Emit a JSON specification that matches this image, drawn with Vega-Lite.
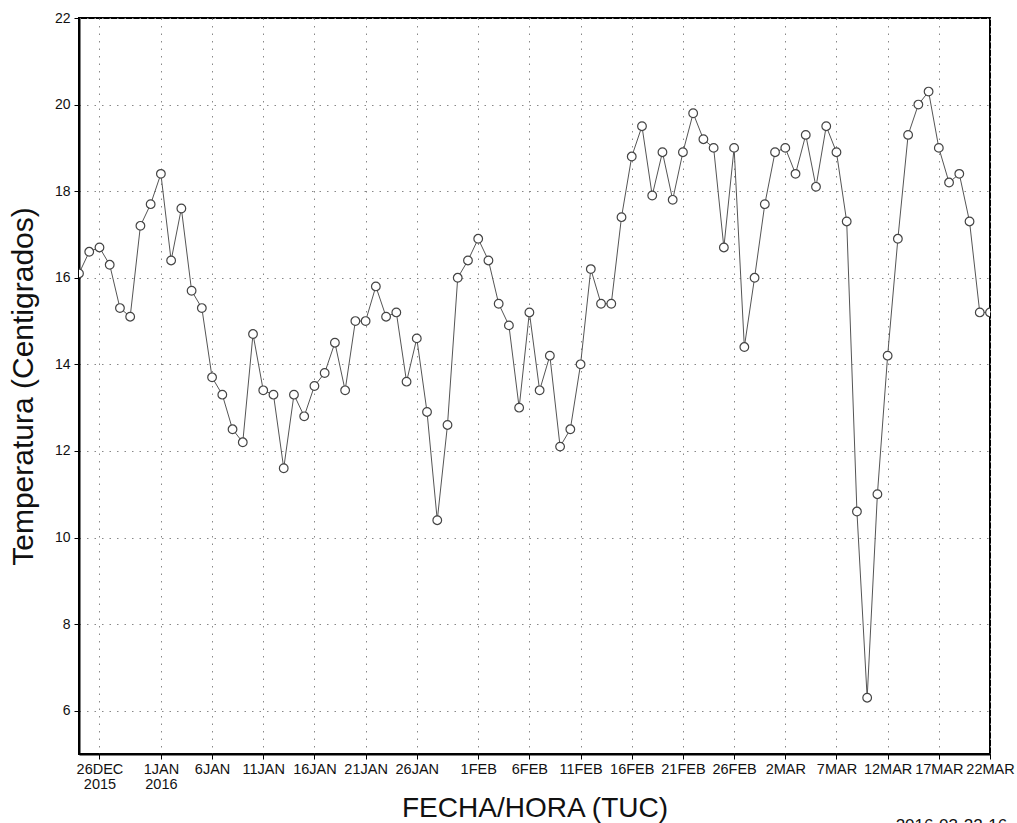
{
  "$schema": "https://vega.github.io/schema/vega-lite/v6.json",
  "width": 911,
  "height": 736,
  "autosize": {"type": "none"},
  "padding": {"left": 79, "top": 18, "right": 27, "bottom": 69},
  "background": "white",
  "config": {
    "view": {"stroke": "black", "strokeWidth": 2},
    "font": "Liberation Sans"
  },
  "title": {
    "text": "2016-03-22-16",
    "orient": "bottom",
    "anchor": "end",
    "font": "Liberation Sans",
    "fontSize": 17,
    "fontWeight": "normal",
    "color": "#111",
    "offset": -5,
    "dx": -7
  },
  "data": {
    "values": [
      {"date": "2015-12-24", "temp": 16.1},
      {"date": "2015-12-25", "temp": 16.6},
      {"date": "2015-12-26", "temp": 16.7},
      {"date": "2015-12-27", "temp": 16.3},
      {"date": "2015-12-28", "temp": 15.3},
      {"date": "2015-12-29", "temp": 15.1},
      {"date": "2015-12-30", "temp": 17.2},
      {"date": "2015-12-31", "temp": 17.7},
      {"date": "2016-01-01", "temp": 18.4},
      {"date": "2016-01-02", "temp": 16.4},
      {"date": "2016-01-03", "temp": 17.6},
      {"date": "2016-01-04", "temp": 15.7},
      {"date": "2016-01-05", "temp": 15.3},
      {"date": "2016-01-06", "temp": 13.7},
      {"date": "2016-01-07", "temp": 13.3},
      {"date": "2016-01-08", "temp": 12.5},
      {"date": "2016-01-09", "temp": 12.2},
      {"date": "2016-01-10", "temp": 14.7},
      {"date": "2016-01-11", "temp": 13.4},
      {"date": "2016-01-12", "temp": 13.3},
      {"date": "2016-01-13", "temp": 11.6},
      {"date": "2016-01-14", "temp": 13.3},
      {"date": "2016-01-15", "temp": 12.8},
      {"date": "2016-01-16", "temp": 13.5},
      {"date": "2016-01-17", "temp": 13.8},
      {"date": "2016-01-18", "temp": 14.5},
      {"date": "2016-01-19", "temp": 13.4},
      {"date": "2016-01-20", "temp": 15.0},
      {"date": "2016-01-21", "temp": 15.0},
      {"date": "2016-01-22", "temp": 15.8},
      {"date": "2016-01-23", "temp": 15.1},
      {"date": "2016-01-24", "temp": 15.2},
      {"date": "2016-01-25", "temp": 13.6},
      {"date": "2016-01-26", "temp": 14.6},
      {"date": "2016-01-27", "temp": 12.9},
      {"date": "2016-01-28", "temp": 10.4},
      {"date": "2016-01-29", "temp": 12.6},
      {"date": "2016-01-30", "temp": 16.0},
      {"date": "2016-01-31", "temp": 16.4},
      {"date": "2016-02-01", "temp": 16.9},
      {"date": "2016-02-02", "temp": 16.4},
      {"date": "2016-02-03", "temp": 15.4},
      {"date": "2016-02-04", "temp": 14.9},
      {"date": "2016-02-05", "temp": 13.0},
      {"date": "2016-02-06", "temp": 15.2},
      {"date": "2016-02-07", "temp": 13.4},
      {"date": "2016-02-08", "temp": 14.2},
      {"date": "2016-02-09", "temp": 12.1},
      {"date": "2016-02-10", "temp": 12.5},
      {"date": "2016-02-11", "temp": 14.0},
      {"date": "2016-02-12", "temp": 16.2},
      {"date": "2016-02-13", "temp": 15.4},
      {"date": "2016-02-14", "temp": 15.4},
      {"date": "2016-02-15", "temp": 17.4},
      {"date": "2016-02-16", "temp": 18.8},
      {"date": "2016-02-17", "temp": 19.5},
      {"date": "2016-02-18", "temp": 17.9},
      {"date": "2016-02-19", "temp": 18.9},
      {"date": "2016-02-20", "temp": 17.8},
      {"date": "2016-02-21", "temp": 18.9},
      {"date": "2016-02-22", "temp": 19.8},
      {"date": "2016-02-23", "temp": 19.2},
      {"date": "2016-02-24", "temp": 19.0},
      {"date": "2016-02-25", "temp": 16.7},
      {"date": "2016-02-26", "temp": 19.0},
      {"date": "2016-02-27", "temp": 14.4},
      {"date": "2016-02-28", "temp": 16.0},
      {"date": "2016-02-29", "temp": 17.7},
      {"date": "2016-03-01", "temp": 18.9},
      {"date": "2016-03-02", "temp": 19.0},
      {"date": "2016-03-03", "temp": 18.4},
      {"date": "2016-03-04", "temp": 19.3},
      {"date": "2016-03-05", "temp": 18.1},
      {"date": "2016-03-06", "temp": 19.5},
      {"date": "2016-03-07", "temp": 18.9},
      {"date": "2016-03-08", "temp": 17.3},
      {"date": "2016-03-09", "temp": 10.6},
      {"date": "2016-03-10", "temp": 6.3},
      {"date": "2016-03-11", "temp": 11.0},
      {"date": "2016-03-12", "temp": 14.2},
      {"date": "2016-03-13", "temp": 16.9},
      {"date": "2016-03-14", "temp": 19.3},
      {"date": "2016-03-15", "temp": 20.0},
      {"date": "2016-03-16", "temp": 20.3},
      {"date": "2016-03-17", "temp": 19.0},
      {"date": "2016-03-18", "temp": 18.2},
      {"date": "2016-03-19", "temp": 18.4},
      {"date": "2016-03-20", "temp": 17.3},
      {"date": "2016-03-21", "temp": 15.2},
      {"date": "2016-03-22", "temp": 15.2}
    ]
  },
  "encoding": {
    "x": {
      "field": "date",
      "type": "temporal",
      "scale": {
        "type": "utc",
        "domain": [
          {"year": 2015, "month": 12, "date": 24, "utc": true},
          {"year": 2016, "month": 3, "date": 22, "utc": true}
        ]
      },
      "axis": {
        "title": "FECHA/HORA (TUC)",
        "titleFont": "Liberation Sans",
        "titleFontSize": 28,
        "titleFontWeight": "normal",
        "titleColor": "#111",
        "titlePadding": 4,
        "values": [
          {"year": 2015, "month": 12, "date": 26, "utc": true},
          {"year": 2016, "month": 1, "date": 1, "utc": true},
          {"year": 2016, "month": 1, "date": 6, "utc": true},
          {"year": 2016, "month": 1, "date": 11, "utc": true},
          {"year": 2016, "month": 1, "date": 16, "utc": true},
          {"year": 2016, "month": 1, "date": 21, "utc": true},
          {"year": 2016, "month": 1, "date": 26, "utc": true},
          {"year": 2016, "month": 2, "date": 1, "utc": true},
          {"year": 2016, "month": 2, "date": 6, "utc": true},
          {"year": 2016, "month": 2, "date": 11, "utc": true},
          {"year": 2016, "month": 2, "date": 16, "utc": true},
          {"year": 2016, "month": 2, "date": 21, "utc": true},
          {"year": 2016, "month": 2, "date": 26, "utc": true},
          {"year": 2016, "month": 3, "date": 2, "utc": true},
          {"year": 2016, "month": 3, "date": 7, "utc": true},
          {"year": 2016, "month": 3, "date": 12, "utc": true},
          {"year": 2016, "month": 3, "date": 17, "utc": true},
          {"year": 2016, "month": 3, "date": 22, "utc": true}
        ],
        "labelExpr": "utcFormat(datum.value,'%m-%d') == '12-26' ? ['26DEC','2015'] : (utcFormat(datum.value,'%m-%d') == '01-01' ? ['1JAN','2016'] : upper(utcFormat(datum.value,'%-d%b')))",
        "labelFont": "Liberation Sans",
        "labelFontSize": 14.5,
        "labelColor": "#111",
        "labelLineHeight": 15,
        "labelPadding": 3,
        "labelOverlap": false,
        "labelFlush": false,
        "labelBound": false,
        "tickSize": 5,
        "tickColor": "black",
        "domainColor": "black",
        "domainWidth": 2,
        "grid": true,
        "gridColor": "#888",
        "gridDash": [1.5, 6],
        "gridWidth": 1
      }
    },
    "y": {
      "field": "temp",
      "type": "quantitative",
      "scale": {"domain": [5, 22], "nice": false, "zero": false},
      "axis": {
        "title": "Temperatura (Centigrados)",
        "titleFont": "Liberation Sans",
        "titleFontSize": 30,
        "titleFontWeight": "normal",
        "titleColor": "#111",
        "titlePadding": 16,
        "values": [6, 8, 10, 12, 14, 16, 18, 20, 22],
        "labelFont": "Liberation Sans",
        "labelFontSize": 14,
        "labelColor": "#111",
        "labelPadding": 4,
        "tickSize": 5,
        "tickColor": "black",
        "domainColor": "black",
        "domainWidth": 2,
        "grid": true,
        "gridColor": "#888",
        "gridDash": [1.5, 6],
        "gridWidth": 1
      }
    }
  },
  "layer": [
    {"mark": {"type": "line", "color": "#555", "strokeWidth": 1, "clip": true}},
    {"mark": {"type": "point", "shape": "circle", "filled": false, "fill": "white", "fillOpacity": 1, "stroke": "#444", "strokeWidth": 1.2, "opacity": 1, "size": 75, "clip": true}}
  ]
}
